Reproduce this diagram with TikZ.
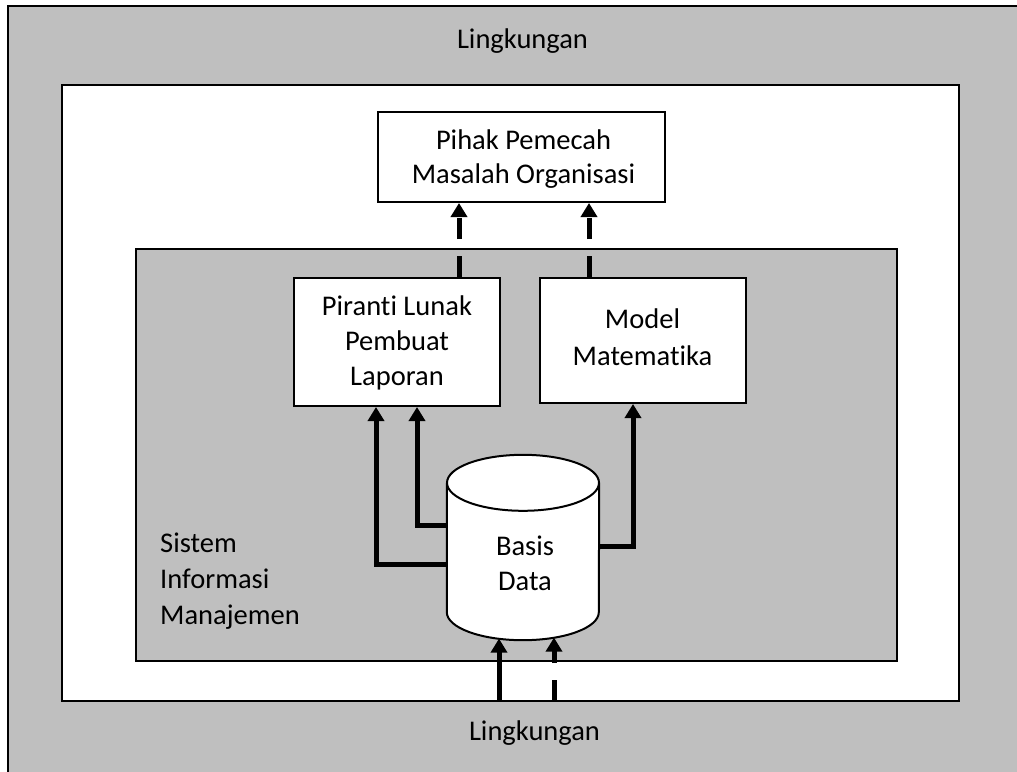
\documentclass[tikz,border=0pt]{standalone}
\usepackage{fontspec}
\setmainfont{Carlito}[Ligatures=NoCommon]
\usetikzlibrary{arrows.meta}
\definecolor{panel}{RGB}{191,191,191}
\begin{document}
\begin{tikzpicture}[x=1pt,y=-1pt,
  txt/.style={font=\fontsize{28.5}{35}\selectfont, inner sep=0pt, anchor=base},
  box/.style={draw, line width=2pt, fill=white, inner sep=0pt},
  flow/.style={line width=5pt, -{Triangle[width=16pt,length=14pt]}},
  dashflow/.style={flow, dash pattern=on 21pt off 17pt},
  frame/.style={draw, line width=2pt}]
\useasboundingbox (0,0) rectangle (1017,771);
% environment (runs past the page edge on the right and bottom)
\begin{scope}
  \clip (0,0) rectangle (1017,771);
  \draw[frame, fill=panel] (8,6) rectangle (1040,800);
\end{scope}
% organisation
\draw[frame, fill=white] (62,85) rectangle (959,701);
% management information system
\draw[frame, fill=panel] (136,249) rectangle (897,661);

% multi-line labels are placed by the baseline of their last line
\node[txt] (envtop) at (522.5,48) {Lingkungan};
\node[txt] (envbot) at (534.5,740) {Lingkungan};
\node[txt, anchor=base west, align=left] (sim) at (160,624) {Sistem\\[1pt]Informasi\\[1pt]Manajemen};

% boxes
\node[box, minimum width=287pt, minimum height=90pt] (solver) at (521.5,157) {};
\node[box, minimum width=206pt, minimum height=128pt] (report) at (397,342) {};
\node[box, minimum width=206pt, minimum height=125pt] (model) at (643,340.5) {};
\node[txt, align=center] (solvertext) at (523.5,183) {Pihak Pemecah\\[-1pt]Masalah Organisasi};
\node[txt, align=center] (reporttext) at (397,385) {Piranti Lunak\\Pembuat\\Laporan};
\node[txt, align=center] (modeltext) at (642.5,365) {Model\\[2pt]Matematika};

% database cylinder: body node spans from the top ellipse centre to the bottom one
\node[inner sep=0pt, minimum width=152pt, minimum height=129pt] (db) at (523,547.5) {};
\fill[white] (db.north west) -- (db.south west)
  arc[start angle=180, end angle=360, x radius=76pt, y radius=28pt]
  -- (db.north east) -- cycle;
\draw[line width=2pt, fill=white] (db.north) ellipse[x radius=76pt, y radius=28pt];
\draw[line width=2pt] (db.north west) -- (db.south west)
  arc[start angle=180, end angle=360, x radius=76pt, y radius=28pt]
  -- (db.north east);
\node[txt, align=center] (dbtext) at (525,590) {Basis\\Data};

% connectors
\coordinate (r1) at (376,0);
\coordinate (r2) at (417,0);
\coordinate (m1) at (633,0);
\draw[flow] (db.west |- 0,564) -| (r1 |- report.south);
\draw[flow] (db.west |- 0,525) -| (r2 |- report.south);
\draw[flow] (db.east |- 0,546) -| (m1 |- model.south);

\coordinate (t1) at (459,0);
\coordinate (t2) at (589,0);
\draw[dashflow] (t1 |- report.north) -- (t1 |- solver.south);
\draw[dashflow] (t2 |- model.north) -- (t2 |- solver.south);

\coordinate (orgbottom) at (0,701);
\coordinate (b1) at (499,638.6);
\coordinate (b2) at (554,637.6);
\draw[flow] (b1 |- orgbottom) -- (b1);
\draw[dashflow] (b2 |- orgbottom) -- (b2);
\end{tikzpicture}
\end{document}
